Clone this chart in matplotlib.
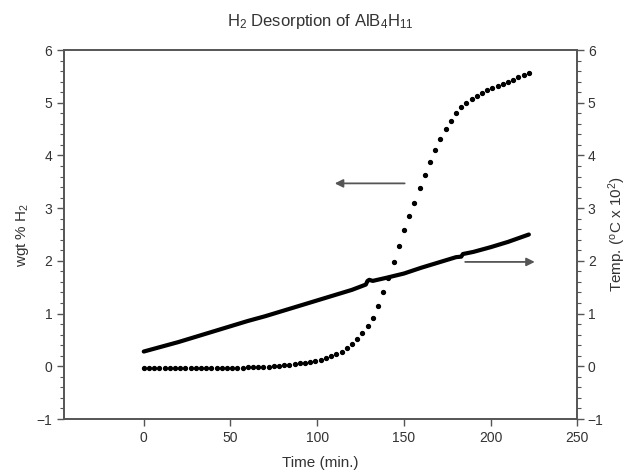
import matplotlib

matplotlib.use("Agg")
import matplotlib.pyplot as plt
from matplotlib.ticker import MultipleLocator

plt.rcParams["font.family"] = ["Liberation Sans", "DejaVu Sans"]
plt.rcParams["mathtext.fontset"] = "custom"
plt.rcParams["mathtext.rm"] = "Liberation Sans"
plt.rcParams["mathtext.it"] = "Liberation Sans:italic"
plt.rcParams["mathtext.bf"] = "Liberation Sans:bold"

# wgt % H2 (dotted curve), one point every 3 minutes
time_min = [0, 3, 6, 9, 12, 15, 18, 21, 24, 27, 30, 33, 36, 39, 42, 45, 48, 51, 54, 57,
            60, 63, 66, 69, 72, 75, 78, 81, 84, 87, 90, 93, 96, 99, 102, 105, 108, 111, 114, 117,
            120, 123, 126, 129, 132, 135, 138, 141, 144, 147, 150, 153, 156, 159, 162, 165, 168, 171, 174, 177,
            180, 183, 186, 189, 192, 195, 198, 201, 204, 207, 210, 213, 216, 219, 222]
wgt_h2 = [-0.04, -0.04, -0.04, -0.04, -0.04, -0.04, -0.04, -0.04, -0.04, -0.04,
          -0.035, -0.035, -0.035, -0.035, -0.03, -0.03, -0.03, -0.03, -0.025, -0.025,
          -0.02, -0.02, -0.015, -0.01, -0.005, 0.0, 0.01, 0.02, 0.03, 0.04,
          0.055, 0.07, 0.085, 0.10, 0.12, 0.15, 0.19, 0.23, 0.28, 0.34,
          0.42, 0.52, 0.63, 0.76, 0.92, 1.15, 1.40, 1.68, 1.97, 2.28,
          2.58, 2.85, 3.10, 3.38, 3.62, 3.87, 4.10, 4.32, 4.50, 4.66,
          4.80, 4.91, 5.00, 5.07, 5.13, 5.19, 5.24, 5.28, 5.32, 5.36,
          5.40, 5.44, 5.48, 5.52, 5.57]

# temperature (degC x 100), thick line
temp_time = [0, 10, 20, 30, 40, 50, 60, 70, 80, 90, 100, 110, 120, 128, 129, 130, 132,
             140, 150, 160, 165, 170, 180, 183, 184, 190, 200, 210, 222]
temp_c = [0.28, 0.37, 0.46, 0.56, 0.66, 0.76, 0.86, 0.95, 1.05, 1.15, 1.25, 1.35, 1.45, 1.55, 1.62, 1.64, 1.62,
          1.68, 1.76, 1.87, 1.92, 1.97, 2.07, 2.08, 2.13, 2.17, 2.26, 2.36, 2.50]

x_ticks = [0, 50, 100, 150, 200, 250]
y_ticks = [-1, 0, 1, 2, 3, 4, 5, 6]

grey = "#555555"
text_col = "#333333"

fig = plt.figure(figsize=(6.29, 4.74), dpi=100)
ax = fig.add_axes([0.1017, 0.116, 0.8163, 0.7785])
ax2 = ax.twinx()

ax.plot(time_min, wgt_h2, linestyle="none", marker="o", markersize=2.8, color="black")
ax2.plot(temp_time, temp_c, color="black", linewidth=3.0, solid_capstyle="round")

ax.set_xlim(-46, 250)
ax.set_ylim(-1, 6)
ax2.set_ylim(-1, 6)
ax.set_xticks(x_ticks)
ax.set_yticks(y_ticks)
ax2.set_yticks(y_ticks)
ax.yaxis.set_minor_locator(MultipleLocator(0.2))
ax2.yaxis.set_minor_locator(MultipleLocator(0.2))

for a in (ax, ax2):
    for s in a.spines.values():
        s.set_color(grey)
        s.set_linewidth(1.2)
    a.tick_params(which="major", direction="out", length=5, width=1, color=grey,
                  labelsize=10, labelcolor=text_col)
    a.tick_params(which="minor", direction="out", length=3, width=0.8, color=grey)
ax2.tick_params(which="major", pad=2.5)

ax.set_xlabel("Time (min.)", fontsize=11, color=text_col, labelpad=8)
ax.set_ylabel("wgt % H$_2$", fontsize=11, color=text_col, labelpad=4)
ax2.set_ylabel("Temp. ($^{\\rm o}$C x 10$^2$)", fontsize=11, color=text_col, labelpad=2)
ax.set_title("H$_2$ Desorption of AlB$_4$H$_{11}$", fontsize=12, color=text_col, pad=17)

ax.annotate("", xy=(108.5, 3.47), xytext=(152, 3.47),
            arrowprops=dict(arrowstyle="-|>", color=grey, lw=1.3, mutation_scale=12))
ax.annotate("", xy=(227, 1.98), xytext=(183.7, 1.98),
            arrowprops=dict(arrowstyle="-|>", color=grey, lw=1.3, mutation_scale=12))

fig.savefig("out.png", dpi=100)
